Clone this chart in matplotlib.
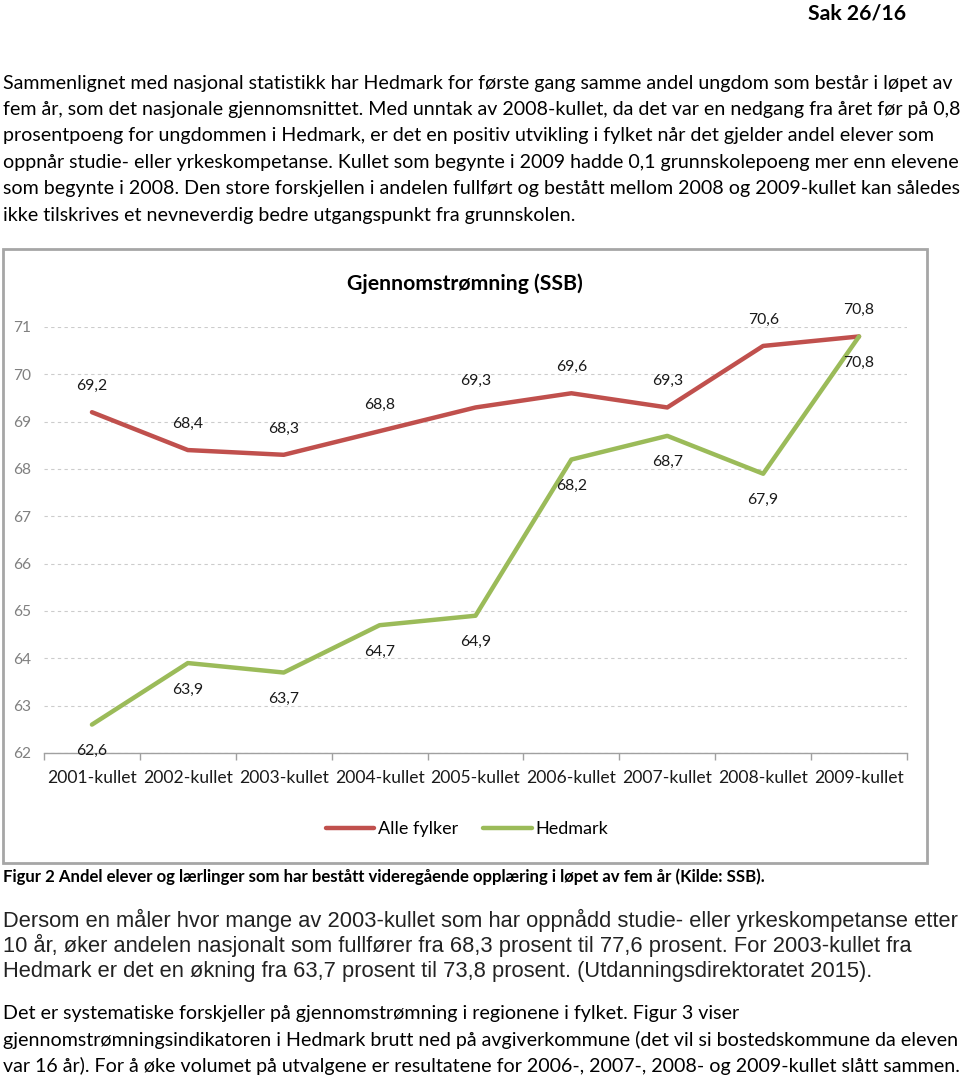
import matplotlib
matplotlib.use("Agg")
import matplotlib.pyplot as plt
from matplotlib.patches import Rectangle

# --- data ---
categories = ["2001-kullet", "2002-kullet", "2003-kullet", "2004-kullet", "2005-kullet",
              "2006-kullet", "2007-kullet", "2008-kullet", "2009-kullet"]
alle_fylker = [69.2, 68.4, 68.3, 68.8, 69.3, 69.6, 69.3, 70.6, 70.8]
hedmark = [62.6, 63.9, 63.7, 64.7, 64.9, 68.2, 68.7, 67.9, 70.8]
y_ticks = [62, 63, 64, 65, 66, 67, 68, 69, 70, 71]

header = "Sak 26/16"
para_top = [
    "Sammenlignet med nasjonal statistikk har Hedmark for første gang samme andel ungdom som består i løpet av",
    "fem år, som det nasjonale gjennomsnittet. Med unntak av 2008-kullet, da det var en nedgang fra året før på 0,8",
    "prosentpoeng for ungdommen i Hedmark, er det en positiv utvikling i fylket når det gjelder andel elever som",
    "oppnår studie- eller yrkeskompetanse. Kullet som begynte i 2009 hadde 0,1 grunnskolepoeng mer enn elevene",
    "som begynte i 2008. Den store forskjellen i andelen fullført og bestått mellom 2008 og 2009-kullet kan således",
    "ikke tilskrives et nevneverdig bedre utgangspunkt fra grunnskolen.",
]
caption = "Figur 2 Andel elever og lærlinger som har bestått videregående opplæring i løpet av fem år (Kilde: SSB)."
para_arial = [
    "Dersom en måler hvor mange av 2003-kullet som har oppnådd studie- eller yrkeskompetanse etter",
    "10 år, øker andelen nasjonalt som fullfører fra 68,3 prosent til 77,6 prosent. For 2003-kullet fra",
    "Hedmark er det en økning fra 63,7 prosent til 73,8 prosent. (Utdanningsdirektoratet 2015).",
]
para_bottom = [
    "Det er systematiske forskjeller på gjennomstrømning i regionene i fylket. Figur 3 viser",
    "gjennomstrømningsindikatoren i Hedmark brutt ned på avgiverkommune (det vil si bostedskommune da eleven",
    "var 16 år). For å øke volumet på utvalgene er resultatene for 2006-, 2007-, 2008- og 2009-kullet slått sammen.",
]

W, H = 960, 1082
CAL = "Lato"
ARIAL = "Liberation Sans"
RED = "#C0504D"
GREEN = "#9BBB59"

fig = plt.figure(figsize=(W / 100, H / 100), dpi=100)
renderer = fig.canvas.get_renderer()


def fx(x):
    return x / W


def fy(y):
    return 1 - y / H


def fit(s, width_px, **kw):
    # font size that gives the text the wanted width in pixels
    t = fig.text(0, 0, s, fontsize=20, **kw)
    w = t.get_window_extent(renderer).width
    t.remove()
    return 20 * width_px / w


# --- page text ---
fig.text(fx(808), fy(14), header, family=CAL, weight="bold",
         fontsize=fit(header, 98, family=CAL, weight="bold"), va="center", ha="left")

fs = fit(para_top[0], 948, family=CAL)
for i, line in enumerate(para_top):
    fig.text(fx(3), fy(83 + 26.4 * i), line, family=CAL, fontsize=fs, va="center")

fs = fit(caption, 767, family=CAL, weight="bold")
fig.text(fx(3), fy(877), caption, family=CAL, weight="bold", fontsize=fs, va="center")

fs = fit(para_arial[0], 954, family=ARIAL)
for i, line in enumerate(para_arial):
    fig.text(fx(3), fy(920 + 25.5 * i), line, family=ARIAL, fontsize=fs, va="center",
             color="#222222")

fs = fit(para_bottom[1], 954, family=CAL)
for i, line in enumerate(para_bottom):
    fig.text(fx(3), fy(1014 + 26 * i), line, family=CAL, fontsize=fs, va="center")

# --- chart frame and title ---
fig.add_artist(Rectangle((fx(3), fy(863)), (927 - 3) / W, (863 - 249) / H,
                         transform=fig.transFigure, fill=False,
                         edgecolor="#a6a6a6", linewidth=2))
title = "Gjennomstrømning (SSB)"
fig.text(fx(465), fy(284), title, family=CAL, weight="bold",
         fontsize=fit(title, 236, family=CAL, weight="bold"), ha="center", va="center")

ax = fig.add_axes([fx(44), fy(753), (907 - 44) / W, (753 - 327) / H])
x = list(range(len(categories)))
ax.plot(x, alle_fylker, color=RED, lw=3.2, solid_capstyle="round", solid_joinstyle="round",
        label="Alle fylker", zorder=3)
ax.plot(x, hedmark, color=GREEN, lw=3.2, solid_capstyle="round", solid_joinstyle="round",
        label="Hedmark", zorder=3)

lab_fs = fit("69,2", 31, family=CAL)
for xi, v in zip(x, alle_fylker):
    ax.annotate(f"{v:.1f}".replace(".", ","), (xi, v), xytext=(0, 19), textcoords="offset points",
                ha="center", va="center", family=CAL, fontsize=lab_fs, color="#1a1a1a",
                annotation_clip=False)
for xi, v in zip(x, hedmark):
    ax.annotate(f"{v:.1f}".replace(".", ","), (xi, v), xytext=(0, -19), textcoords="offset points",
                ha="center", va="center", family=CAL, fontsize=lab_fs, color="#1a1a1a",
                annotation_clip=False)

ax.set_xlim(-0.5, len(categories) - 0.5)
ax.set_ylim(62, 71)
ax.set_yticks(y_ticks)
ax.set_yticklabels([str(t) for t in y_ticks], family=CAL,
                   fontsize=fit("71", 18, family=CAL), color="#808080")
ax.set_xticks(x)
ax.set_xticklabels(categories, family=CAL, fontsize=fit(categories[0], 90, family=CAL),
                   color="#1a1a1a")
ax.set_xticks([i - 0.5 for i in range(len(categories) + 1)], minor=True)
ax.tick_params(axis="x", which="major", length=0, pad=12)
ax.tick_params(axis="x", which="minor", length=5, width=1, color="#a0a0a0", direction="out")
ax.tick_params(axis="y", length=0, pad=9)
ax.grid(axis="y", color="#cccccc", linestyle=(0, (3, 3)), linewidth=0.8)
ax.set_axisbelow(True)
for s in ["top", "right", "left"]:
    ax.spines[s].set_visible(False)
ax.spines["bottom"].set_color("#a0a0a0")
ax.spines["bottom"].set_linewidth(1)

fig.legend(loc="center", bbox_to_anchor=(fx(467), fy(829)), ncol=2, frameon=False,
           handlelength=2.7, handletextpad=0.2, columnspacing=1.4,
           prop={"family": CAL, "size": fit("Alle fylker", 80, family=CAL)})

fig.savefig("out.png", dpi=100)
